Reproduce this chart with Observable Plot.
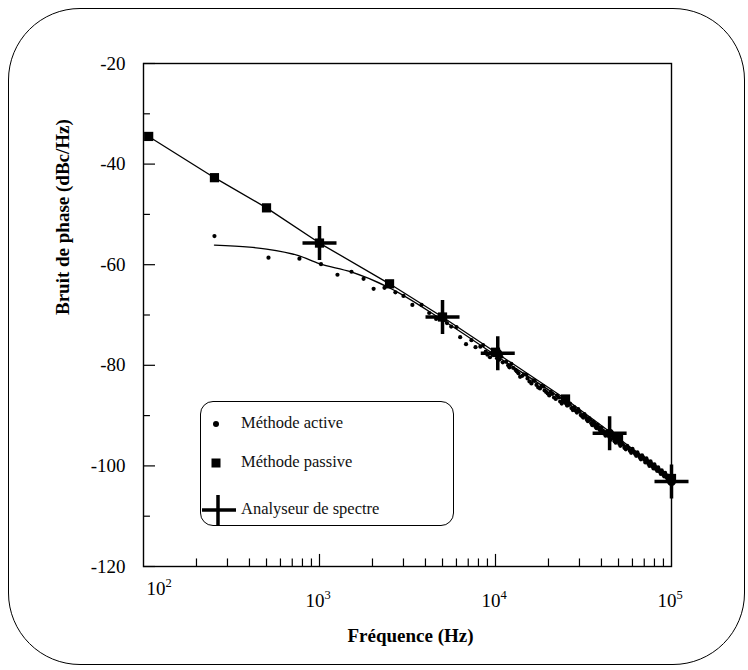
<!DOCTYPE html>
<html><head><meta charset="utf-8">
<script src="https://cdn.jsdelivr.net/npm/d3@7"></script>
<script src="https://cdn.jsdelivr.net/npm/@observablehq/plot@0.6"></script>
<style>
body{margin:0;background:#fff;}
#wrap{position:relative;width:748px;height:670px;font-family:"Liberation Serif","Times New Roman",serif;}
#wrap svg{position:absolute;left:0;top:0;}
#border{position:absolute;left:8px;top:8px;width:737px;height:657px;border:1.5px solid #000;border-radius:72px;box-sizing:border-box;pointer-events:none;}
#legend{position:absolute;left:200px;top:401px;width:254px;height:125px;border:1.5px solid #000;border-radius:13px;box-sizing:border-box;background:#fff;}
#legend .row{position:absolute;left:0;height:24px;width:250px;}
#legend .row svg{position:absolute;left:0;top:0;}
#legend .row span{position:absolute;left:40px;top:1px;font-size:16.5px;line-height:20px;color:#111;}
</style></head><body>
<div id="wrap"><div id="border"></div></div>
<script>
// Méthode passive (squares + line)
const passiveFreq = [107, 253, 500, 1000, 2500, 5000, 10000, 25000, 50000, 100000];
const passiveVal  = [-34.5, -42.7, -48.7, -55.7, -63.8, -70.4, -77.4, -86.7, -94.5, -102.5];

// Analyseur de spectre (crosses)
const spectreFreq = [1000, 5000, 10300, 44500, 100000];
const spectreVal  = [-55.7, -70.4, -77.6, -93.5, -103.1];

// Méthode active: fitted curve
const activeFitFreq = [253, 400, 500, 760, 1000, 1500, 2500, 5000, 10000, 25000, 50000, 100000];
const activeFitVal  = [-56.1, -56.5, -56.9, -58.2, -59.8, -61.4, -64.6, -71.0, -78.0, -87.2, -95.0, -102.8];

// Méthode active: measured points
const activeFreq = [253, 513, 769, 1020, 1265, 1520, 1780, 2030, 2340, 2700, 3000, 3370, 3800, 4200, 4600,
  5300, 5600, 6000, 6300, 6800, 7300, 7700, 8200, 8800, 9300, 9800, 10500, 11000, 11500, 12000, 12600,
  13200, 13800, 14500, 15200, 16000, 16700, 17500, 18300, 19000, 19800, 20600, 21500, 22400, 23300,
  24200, 25000, 26000, 27000, 28000, 29000, 30000, 31000, 32000, 33000, 34000, 35000, 36000, 37000,
  38000, 39000, 40000, 41500, 43000, 44500, 46000, 47500, 49000, 50500, 52000, 54000, 56000, 58000,
  60000, 62000, 64000, 66000, 68000, 70000, 72000, 74000, 76000, 78000, 80000, 82000, 84000, 86000,
  88000, 90000, 92000, 94000, 96000, 98000, 100000,
  8500, 9000, 10200, 10800, 11800, 12300, 13000, 13500, 14200, 15000, 15600, 16400, 17100, 17900,
  18700, 19400, 20200, 21000, 22000, 22900, 23800, 24600, 25500, 26500, 27500, 28500, 29500, 30500,
  31500, 32500, 33500, 34500, 35500, 36500, 37500, 38500, 39500, 40800, 42200, 43800, 45200, 46800,
  48200, 49800, 51200, 53000, 55000, 57000, 59000, 61000, 63000, 65000, 67000, 69000, 71000, 73000,
  75000, 77000, 79000, 81000, 83000, 85000, 87000, 89000, 91000, 93000, 95000, 97000, 99000];
const activeVal = [-54.3, -58.6, -58.8, -59.9, -62.0, -61.4, -62.8, -64.8, -64.6, -65.5, -66.2, -68.0, -68.0, -69.6, -70.8,
  -71.6, -72.3, -72.4, -74.4, -75.8, -75.0, -76.4, -76.3, -77.3, -78.4, -78.0, -78.9, -79.4, -79.3, -80.4, -80.5,
  -81.2, -82.3, -81.8, -82.6, -83.6, -83.1, -84.4, -84.1, -85.0, -85.6, -85.3, -86.4, -86.0, -87.2,
  -86.6, -87.5, -87.9, -88.5, -88.3, -89.4, -89.2, -90.1, -89.7, -90.8, -90.5, -91.5, -91.2, -92.2,
  -91.8, -92.8, -92.4, -93.6, -93.2, -94.3, -94.0, -95.1, -94.7, -95.6, -95.3, -96.4, -96.0, -97.0,
  -96.6, -97.6, -97.3, -98.3, -97.9, -98.8, -98.5, -99.6, -99.1, -100.1, -99.7, -100.7, -100.3, -101.2,
  -100.9, -101.8, -101.4, -102.3, -102.0, -102.7, -102.3,
  -76.0, -77.9, -78.6, -78.3, -80.0, -79.7, -80.9, -81.6, -82.1, -81.9, -83.2, -83.0, -83.9, -84.6,
  -84.2, -85.3, -86.0, -85.7, -86.7, -86.4, -87.6, -86.9, -88.0, -87.6, -88.9, -89.0, -88.7, -89.9,
  -90.4, -90.2, -91.1, -90.8, -91.9, -91.6, -92.5, -92.3, -93.0, -93.1, -94.0, -93.8, -94.8, -94.5,
  -95.4, -95.1, -96.0, -95.8, -96.7, -96.5, -97.4, -97.1, -98.0, -97.8, -98.7, -98.3, -99.3, -99.0,
  -100.0, -99.6, -100.5, -100.2, -101.0, -100.8, -101.6, -101.3, -102.1, -101.8, -102.6, -102.2, -103.0];

// Axis ticks and labels
const yTicks = [-20, -40, -60, -80, -100, -120];
const yMinorTicks = [-30, -50, -70, -90, -110];
const xTicks = [100, 1000, 10000, 100000];
const xTickBase = "10";
const xTickExponents = ["2", "3", "4", "5"];
const xMajorInner = [1000, 10000];
const xMinorTicks = [200,300,400,500,600,700,800,900,2000,3000,4000,5000,6000,7000,8000,9000,20000,30000,40000,50000,60000,70000,80000,90000];

const xTitle = "Fréquence (Hz)";
const yTitle = "Bruit de phase (dBc/Hz)";
const legendLabels = ["Méthode active", "Méthode passive", "Analyseur de spectre"];

const passive = passiveFreq.map((f, i) => ({f, v: passiveVal[i]}));
const spectre = spectreFreq.map((f, i) => ({f, v: spectreVal[i]}));
const activeFit = activeFitFreq.map((f, i) => ({f, v: activeFitVal[i]}));
const active = activeFreq.map((f, i) => ({f, v: activeVal[i]}));
const xLab = xTicks.map((t, i) => ({t, e: xTickExponents[i], first: i === 0}));

const crossSymbol = {
  draw(context, size) {
    const r = Math.sqrt(size / Math.PI);
    context.moveTo(-r, 0); context.lineTo(r, 0);
    context.moveTo(0, -r); context.lineTo(0, r);
  }
};

const FONT = "Liberation Serif, Times New Roman, serif";
const xLow = 100, yLow = -120;

const chart = Plot.plot({
  width: 748, height: 670,
  marginLeft: 143, marginRight: 77, marginTop: 63, marginBottom: 104,
  style: {fontFamily: FONT, background: "transparent", color: "#000"},
  x: {type: "log", domain: [100, 100000], axis: null},
  y: {domain: [-120, -20], axis: null},
  marks: [
    Plot.frame({stroke: "#000", strokeWidth: 1.4}),
    // y ticks (inward)
    Plot.ruleY(yTicks, {y: d => d, x1: xLow, x2: xLow * 1.17, stroke: "#000", strokeWidth: 1.2}),
    Plot.ruleY(yMinorTicks, {y: d => d, x1: xLow, x2: xLow * 1.095, stroke: "#000", strokeWidth: 1.2}),
    // x ticks (inward)
    Plot.ruleX(xMajorInner, {x: d => d, y1: yLow, y2: yLow + 2.4, stroke: "#000", strokeWidth: 1.2}),
    Plot.ruleX(xMinorTicks, {x: d => d, y1: yLow, y2: yLow + 1.5, stroke: "#000", strokeWidth: 1.2}),
    // tick labels
    Plot.text(yTicks, {x: xLow, y: d => d, text: d => String(d), dx: -18, textAnchor: "end", fontSize: 19, fill: "#000"}),
    Plot.text(xLab.filter(d => !d.first), {x: "t", y: yLow, text: () => xTickBase, textAnchor: "end", dx: 5, dy: 34, fontSize: 19, fill: "#000"}),
    Plot.text(xLab.filter(d => !d.first), {x: "t", y: yLow, text: "e", textAnchor: "start", dx: 5, dy: 28, fontSize: 12.5, fill: "#000"}),
    Plot.text(xLab.filter(d => d.first), {x: "t", y: yLow, text: () => xTickBase, textAnchor: "end", dx: 22, dy: 22, fontSize: 19, fill: "#000"}),
    Plot.text(xLab.filter(d => d.first), {x: "t", y: yLow, text: "e", textAnchor: "start", dx: 22, dy: 16, fontSize: 12.5, fill: "#000"}),
    // axis titles
    Plot.text([xTitle], {frameAnchor: "bottom", dx: 3, dy: 75, fontSize: 19, fontWeight: "bold", fill: "#000"}),
    Plot.text([yTitle], {frameAnchor: "left", dx: -81, rotate: -90, fontSize: 19, fontWeight: "bold", fill: "#000"}),
    // data
    Plot.line(passive, {x: "f", y: "v", stroke: "#000", strokeWidth: 1.3}),
    Plot.line(activeFit, {x: "f", y: "v", stroke: "#000", strokeWidth: 1.3, curve: "monotone-x"}),
    Plot.dot(active, {x: "f", y: "v", r: 2.1, fill: "#000"}),
    Plot.dot(passive, {x: "f", y: "v", symbol: "square", r: 5.2, fill: "#000"}),
    Plot.dot(spectre, {x: "f", y: "v", symbol: crossSymbol, r: 17, stroke: "#000", strokeWidth: 3.5, fill: "none"}),
    Plot.dot(spectre, {x: "f", y: "v", r: 4.5, fill: "#000"})
  ]
});

const wrap = document.getElementById("wrap");
wrap.insertBefore(chart, wrap.firstChild);

// Legend
const legend = document.createElement("div");
legend.id = "legend";
const rowTops = [10, 49, 96];
const symbols = [
  '<svg width="36" height="24"><circle cx="15" cy="12" r="3" fill="#000"/></svg>',
  '<svg width="36" height="24"><rect x="10.5" y="7.5" width="9" height="9" fill="#000"/></svg>',
  '<svg width="36" height="30" style="top:-3px"><line x1="1" y1="15" x2="35" y2="15" stroke="#000" stroke-width="3.5"/><line x1="17" y1="0" x2="17" y2="30" stroke="#000" stroke-width="3.5"/></svg>'
];
legendLabels.forEach((lab, i) => {
  const row = document.createElement("div");
  row.className = "row";
  row.style.top = rowTops[i] + "px";
  row.innerHTML = symbols[i] + "<span></span>";
  row.querySelector("span").textContent = lab;
  legend.appendChild(row);
});
wrap.appendChild(legend);
</script>
</body></html>
